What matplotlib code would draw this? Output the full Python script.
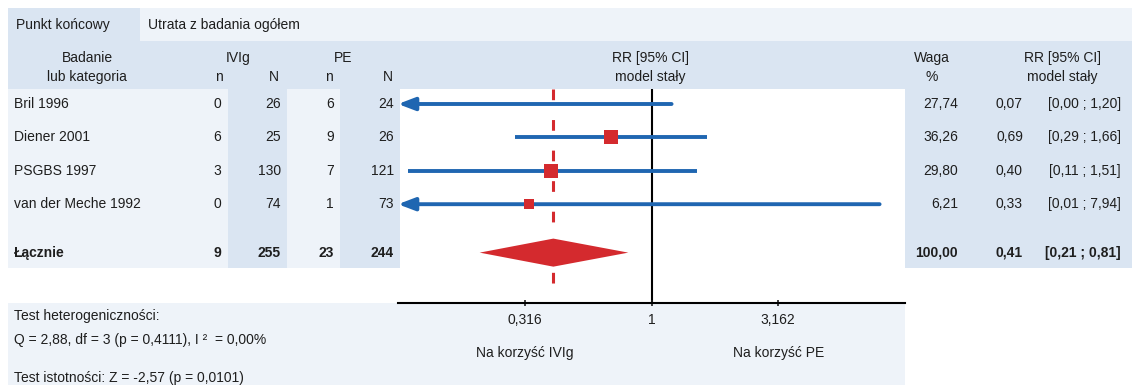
import matplotlib.pyplot as plt
import matplotlib.transforms as mtrans
import numpy as np
from matplotlib.ticker import NullLocator

# dane
studies = ['Bril 1996', 'Diener 2001', 'PSGBS 1997', 'van der Meche 1992']
ivig_n = [0, 6, 3, 0]
ivig_N = [26, 25, 130, 74]
pe_n = [6, 9, 7, 1]
pe_N = [24, 26, 121, 73]
waga = [27.74, 36.26, 29.80, 6.21]
rr = [0.07, 0.69, 0.40, 0.33]
ci_lo = [0.00, 0.29, 0.11, 0.01]
ci_hi = [1.20, 1.66, 1.51, 7.94]

total_ivig_n, total_ivig_N = 9, 255
total_pe_n, total_pe_N = 23, 244
total_waga = 100.00
pooled_rr, pooled_lo, pooled_hi = 0.41, 0.21, 0.81

tick_vals = [0.316, 1, 3.162]
tick_labels = ['0,316', '1', '3,162']

dark = '#dae5f2'
light = '#eef3f9'
blue = '#1f66b1'
red = '#d42a2e'
txt = '#1e1e1e'

plt.rcParams['font.family'] = ['Liberation Sans', 'DejaVu Sans']
plt.rcParams['font.size'] = 10

W, H = 1132, 385
fig = plt.figure(figsize=(W / 100, H / 100), dpi=100)

bg = fig.add_axes([0, 0, 1, 1])
bg.set_xlim(0, W)
bg.set_ylim(H, 0)
bg.axis('off')


def box(x0, y0, x1, y1, c):
    bg.add_patch(plt.Rectangle((x0, y0), x1 - x0, y1 - y0, color=c, lw=0))


box(8, 8, 140, 41, dark)
box(140, 8, W, 41, light)
box(8, 41, W, 89, dark)
box(8, 89, 400, 268, light)
box(228, 89, 287, 268, dark)
box(340, 89, 400, 268, dark)
box(905, 89, W, 268, dark)
box(8, 303, 905, H, light)


def fmt(v):
    return f'{v:.2f}'.replace('.', ',')


def t(x, y, s, ha='left', bold=False):
    bg.text(x, y, s, ha=ha, va='center', color=txt,
            fontweight='bold' if bold else 'normal')


# naglowki
t(16, 25, 'Punkt końcowy')
t(148, 25, 'Utrata z badania ogółem')
t(87, 58, 'Badanie', 'center')
t(87, 77, 'lub kategoria', 'center')
t(238, 58, 'IVIg', 'center')
t(219, 77, 'n', 'center')
t(274, 77, 'N', 'center')
t(343, 58, 'PE', 'center')
t(329, 77, 'n', 'center')
t(388, 77, 'N', 'center')
t(650, 58, 'RR [95% CI]', 'center')
t(650, 77, 'model stały', 'center')
t(932, 58, 'Waga', 'center')
t(932, 77, '%', 'center')
t(1062, 58, 'RR [95% CI]', 'center')
t(1062, 77, 'model stały', 'center')

row0, step = 104, 33.4
pooled_row = 4.45

for i, name in enumerate(studies):
    y = row0 + i * step
    t(14, y, name)
    t(221, y, str(ivig_n[i]), 'right')
    t(281, y, str(ivig_N[i]), 'right')
    t(334, y, str(pe_n[i]), 'right')
    t(394, y, str(pe_N[i]), 'right')
    t(958, y, fmt(waga[i]), 'right')
    t(1023, y, fmt(rr[i]), 'right')
    t(1121, y, f'[{fmt(ci_lo[i])} ; {fmt(ci_hi[i])}]', 'right')

yp = row0 + pooled_row * step
t(14, yp, 'Łącznie', bold=True)
t(221, yp, str(total_ivig_n), 'right', True)
t(281, yp, str(total_ivig_N), 'right', True)
t(334, yp, str(total_pe_n), 'right', True)
t(394, yp, str(total_pe_N), 'right', True)
t(958, yp, fmt(total_waga), 'right', True)
t(1023, yp, fmt(pooled_rr), 'right', True)
t(1121, yp, f'[{fmt(pooled_lo)} ; {fmt(pooled_hi)}]', 'right', True)

t(14, 316, 'Test heterogeniczności:')
t(14, 340, 'Q = 2,88, df = 3 (p = 0,4111), I ²  = 0,00%')
t(14, 378, 'Test istotności: Z = -2,57 (p = 0,0101)')

# wykres lesny
fx0, fx1, fy0, fy1 = 398, 905, 89, 303
fa = fig.add_axes([fx0 / W, 1 - fy1 / H, (fx1 - fx0) / W, (fy1 - fy0) / H])
fa.set_xscale('log')
xmin, xmax = 0.1, 10
fa.set_xlim(xmin, xmax)
ytop, ybot = (fy0 - row0) / step, (fy1 - row0) / step
fa.set_ylim(ybot, ytop)
fa.patch.set_alpha(0)
for s in ['left', 'right', 'top']:
    fa.spines[s].set_visible(False)
fa.spines['bottom'].set_linewidth(1.5)
fa.set_yticks([])
fa.set_xticks(tick_vals)
fa.set_xticklabels(tick_labels)
fa.xaxis.set_minor_locator(NullLocator())
fa.tick_params(axis='x', direction='inout', length=5, width=1.2, pad=5,
               labelsize=10, colors=txt)

fa.axvline(1, color='black', lw=1.5, zorder=1)
fa.plot([pooled_rr, pooled_rr], [ytop, ybot], color=red, lw=2.2,
        ls=(0, (3.5, 6.5)), zorder=2)

for i in range(len(studies)):
    if ci_lo[i] < xmin:
        fa.annotate('', xy=(xmin, i), xytext=(ci_hi[i], i),
                    arrowprops=dict(arrowstyle='-|>,head_length=1.0,head_width=0.38',
                                    color=blue, lw=2.8, shrinkA=0, shrinkB=0,
                                    mutation_scale=10), zorder=1.5)
    else:
        fa.plot([ci_lo[i], ci_hi[i]], [i, i], color=blue, lw=2.8,
                solid_capstyle='butt', zorder=1.5)
    if rr[i] >= xmin:
        side = (6 + 1.4 * np.sqrt(waga[i])) * 0.72
        fa.scatter([rr[i]], [i], marker='s', s=side ** 2, color=red,
                   linewidths=0, zorder=3)

h = 0.42
fa.fill([pooled_lo, pooled_rr, pooled_hi, pooled_rr],
        [pooled_row, pooled_row - h, pooled_row, pooled_row + h],
        color=red, lw=0, zorder=3)

tr = mtrans.blended_transform_factory(fa.transData, bg.transData)
fa.text(0.316, 353, 'Na korzyść IVIg', ha='center', va='center', color=txt, transform=tr)
fa.text(3.162, 353, 'Na korzyść PE', ha='center', va='center', color=txt, transform=tr)

fig.savefig('out.png', dpi=100)
